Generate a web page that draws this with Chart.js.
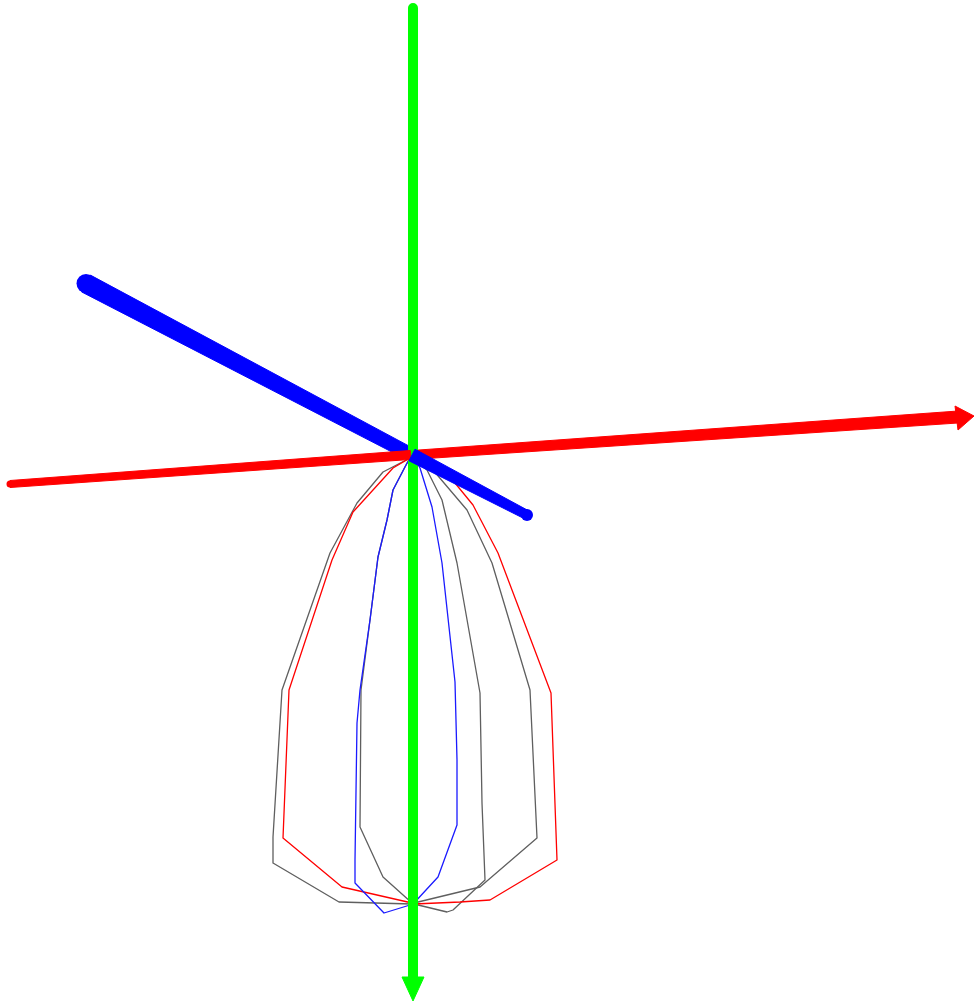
<!DOCTYPE html>
<html>
<head>
<meta charset="utf-8">
<style>html,body{margin:0;padding:0;background:#fff}canvas{display:block}</style>
<script src="https://cdn.jsdelivr.net/npm/chart.js@4"></script>
</head>
<body>
<canvas id="c" width="976" height="1003" style="width:976px;height:1003px"></canvas>
<script>
const grayOuterLeftX=[-2,-29,-55,-82,-130,-139,-139,-73,0];
const grayOuterLeftY=[-3,-17,-48,-98,-235,-382,-408,-447,-449];
const redLeftX=[-2,-19,-39,-59,-80,-123,-129,-70,0];
const redLeftY=[-3,-13,-35,-57,-105,-235,-383,-432,-448];
const redRightX=[2,23,43,61,86,139,145,78,48,2];
const redRightY=[-3,-15,-28,-50,-98,-238,-405,-445,-447,-449];
const blueLeftX=[-2,-7,-19,-25,-34,-42,-52,-55,-57,-57,-28,-2];
const blueLeftY=[-3,-12,-35,-65,-102,-165,-235,-268,-405,-428,-458,-450];
const blueRightX=[2,8,20,30,43,45,45,26,2];
const blueRightY=[-3,-13,-52,-108,-227,-305,-370,-422,-448];
const grayInnerLeftX=[-2,-5,-19,-25,-34,-42,-51,-52,-29,0];
const grayInnerLeftY=[-3,-8,-35,-65,-102,-165,-235,-372,-422,-448];
const grayInnerRightX=[2,15,30,45,68,70,73,41,35,2];
const grayInnerRightY=[-3,-15,-45,-108,-238,-348,-425,-455,-457,-449];
const grayOuterRightX=[2,21,55,80,118,125,68,2];
const grayOuterRightY=[-3,-15,-55,-108,-235,-383,-432,-448];

const greenAxisX=[1,1];
const greenAxisY=[447,-523];
const greenHeadX=[-10,12,1,-10];
const greenHeadY=[-522,-522,-546,-522];
const redNegX=[-402,-2,-2,-402,-402];
const redNegY=[-25.5,4.5,-4.5,-32.5,-25.5];
const redPosX=[0,546,546,0,0];
const redPosY=[4.5,44,32,-4.5,4.5];
const redHeadX=[543,546,562,543];
const redHeadY=[49,25,39,49];
const blueFarX=[-321.6,1,-5,-330.4,-321.6];
const blueFarY=[179.9,6.8,-4.8,163.1,179.9];
const blueNearX=[3,117.1,112.9,-3,3];
const blueNearY=[5.8,-56,-64,-5.8,5.8];
const capX=[-326,-402,115];
const capY=[171.5,-29,-60];
const capRadius=[9.5,3.5,6];

const pts=(xs,ys)=>xs.map((x,i)=>({x,y:ys[i]}));
const curve=(xs,ys,color)=>({data:pts(xs,ys),borderColor:color,borderWidth:1.3,pointRadius:0,showLine:true,fill:false,tension:0,borderJoinStyle:'round'});
const line=(xs,ys,w,color)=>({data:pts(xs,ys),borderColor:color,borderWidth:w,pointRadius:0,showLine:true,fill:false,tension:0,borderCapStyle:'round'});
const poly=(xs,ys,color)=>({data:pts(xs,ys),borderColor:color,backgroundColor:color,borderWidth:1,pointRadius:0,showLine:true,fill:'shape',tension:0});
const cap=(i,color)=>({data:[{x:capX[i],y:capY[i]}],showLine:false,pointRadius:capRadius[i],pointBackgroundColor:color,pointBorderWidth:0});

const GRAY='#5f5f5f', RED='#ff0000', BLUE='#1a1aff';
// first dataset is painted last
const datasets=[
  cap(2,'#0000ff'),
  poly(blueNearX,blueNearY,'#0000ff'),
  cap(1,'#ff0000'),
  poly(redNegX,redNegY,'#ff0000'),
  poly(greenHeadX,greenHeadY,'#00ff00'),
  line(greenAxisX,greenAxisY,10,'#00ff00'),
  poly(redHeadX,redHeadY,'#ff0000'),
  poly(redPosX,redPosY,'#ff0000'),
  cap(0,'#0000ff'),
  poly(blueFarX,blueFarY,'#0000ff'),
  curve(blueRightX,blueRightY,BLUE),
  curve(blueLeftX,blueLeftY,BLUE),
  curve(redRightX,redRightY,RED),
  curve(redLeftX,redLeftY,RED),
  curve(grayInnerRightX,grayInnerRightY,GRAY),
  curve(grayInnerLeftX,grayInnerLeftY,GRAY),
  curve(grayOuterRightX,grayOuterRightY,GRAY),
  curve(grayOuterLeftX,grayOuterLeftY,GRAY)
];

new Chart(document.getElementById('c'),{
  type:'scatter',
  data:{datasets},
  options:{
    responsive:false,animation:false,
    layout:{padding:0,autoPadding:false},
    plugins:{legend:{display:false},tooltip:{enabled:false},title:{display:false}},
    scales:{
      x:{type:'linear',display:false,min:-412,max:564},
      y:{type:'linear',display:false,min:-548,max:455}
    }
  }
});
</script>
</body>
</html>
